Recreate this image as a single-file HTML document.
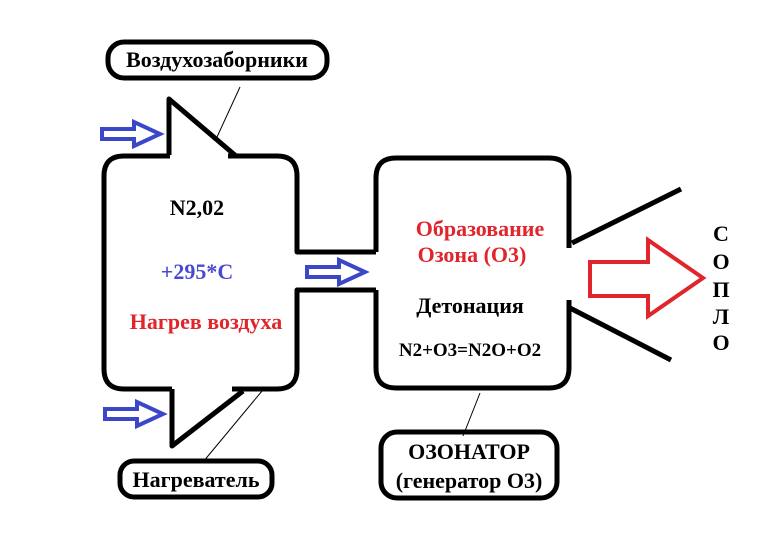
<!DOCTYPE html>
<html><head><meta charset="utf-8"><style>body{margin:0;background:#fff}svg{display:block}</style></head><body>
<svg width="770" height="546" viewBox="0 0 770 546" xmlns="http://www.w3.org/2000/svg">
<g fill="none" stroke="#000" stroke-width="5" stroke-linejoin="round">
<path d="M170 156 H124 Q104 156 104 176 V369 Q104 389 124 389 H172"/>
<path d="M228 156 H277 Q297 156 297 176 V252 H376"/>
<path d="M376 290 H297 V369 Q297 389 277 389 H232"/>
<path d="M169 155 V99 L236 156"/>
<path d="M172 389 V446 L243 391"/>
<path d="M376 252 V178 Q376 158 396 158 H549 Q569 158 569 178 V248"/>
<path d="M376 290 V368 Q376 388 396 388 H549 Q569 388 569 368 V300"/>
<path d="M572 243 L681 189"/>
<path d="M568 307 L671 360"/>
<rect x="108" y="42" width="219" height="36" rx="16"/>
<rect x="120" y="461" width="152" height="36" rx="14"/>
<rect x="381" y="432" width="176" height="66" rx="16"/>
</g>
<g stroke="#000" stroke-width="1">
<line x1="240" y1="87" x2="217" y2="137"/>
<line x1="262" y1="391" x2="203" y2="462"/>
<line x1="480" y1="393" x2="463" y2="436"/>
</g>
<g fill="#fff" stroke="#3c46c8" stroke-width="4" stroke-linejoin="miter">
<path d="M102 129 H134 V122 L160 134 L134 146 V139 H102 Z"/>
<path d="M105 409 H137 V402 L163 414 L137 426 V419 H105 Z"/>
<path d="M307 267 H339 V260 L365 272 L339 284 V277 H307 Z"/>
</g>
<path d="M590 262 H648 V240 L703 278 L648 316 V296 H590 Z" fill="#fff" stroke="#e0262c" stroke-width="4"/>
<g text-anchor="middle" font-size="22" font-family="'Liberation Serif', serif" font-weight="bold" style="font-family:'Liberation Serif',serif;font-weight:bold">
<text x="217" y="67">Воздухозаборники</text>
<text x="196" y="487">Нагреватель</text>
<text x="469" y="459">ОЗОНАТОР</text>
<text x="469" y="488">(генератор О3)</text>
<text x="197" y="215">N2,02</text>
<text x="197" y="279" fill="#4a4ad0">+295*C</text>
<text x="206" y="329" fill="#e0262c">Нагрев воздуха</text>
<text x="480" y="236" fill="#e0262c">Образование</text>
<text x="472" y="262" fill="#e0262c">Озона (О3)</text>
<text x="470" y="313">Детонация</text>
<text x="470" y="356" font-size="19">N2+O3=N2O+O2</text>
<text x="721" y="241">С</text>
<text x="721" y="269">О</text>
<text x="721" y="297">П</text>
<text x="721" y="324">Л</text>
<text x="721" y="350">О</text>
</g>
</svg>
</body></html>
